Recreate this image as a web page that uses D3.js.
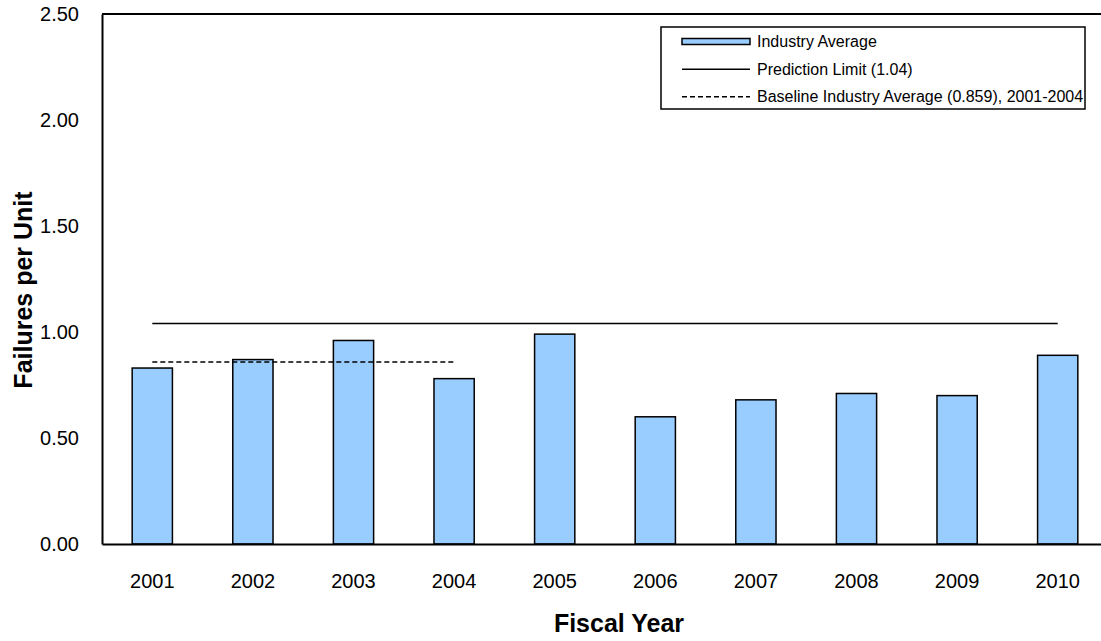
<!DOCTYPE html>
<html>
<head>
<meta charset="utf-8">
<script src="https://cdn.jsdelivr.net/npm/d3@7"></script>
<style>
  html, body { margin: 0; padding: 0; background: #fff; overflow: hidden; }
  svg { display: block; font-family: "Liberation Sans", Arial, sans-serif; }
</style>
</head>
<body>
<svg id="chart" width="1101" height="641"></svg>
<script>
const years = ["2001","2002","2003","2004","2005","2006","2007","2008","2009","2010"];
const industryAverage = [0.83, 0.87, 0.96, 0.78, 0.99, 0.60, 0.68, 0.71, 0.70, 0.89];
const predictionLimit = 1.04;
const baselineAverage = 0.859;
const baselineYears = ["2001", "2004"];
const yTicks = [0, 0.5, 1.0, 1.5, 2.0, 2.5];
const legendLabels = ["Industry Average", "Prediction Limit (1.04)", "Baseline Industry Average (0.859), 2001-2004"];

const svg = d3.select("#chart");
const margin = { left: 102, top: 14, right: 1108, bottom: 544 };

const x = d3.scaleBand().domain(years).range([margin.left, margin.right])
  .paddingInner(0.6).paddingOuter(0.3);
const y = d3.scaleLinear().domain([0, 2.5]).range([margin.bottom, margin.top]);

// Bars
svg.append("g").selectAll("rect").data(years).join("rect")
  .attr("x", d => x(d))
  .attr("y", (d, i) => y(industryAverage[i]))
  .attr("width", x.bandwidth())
  .attr("height", (d, i) => y(0) - y(industryAverage[i]))
  .attr("fill", "#99CCFF")
  .attr("stroke", "#000")
  .attr("stroke-width", 1.5);

const cx = d => x(d) + x.bandwidth() / 2;

// Prediction limit line
svg.append("line")
  .attr("x1", cx(years[0])).attr("x2", cx(years[years.length - 1]))
  .attr("y1", y(predictionLimit)).attr("y2", y(predictionLimit))
  .attr("stroke", "#000").attr("stroke-width", 1.5);

// Baseline dashed line
svg.append("line")
  .attr("x1", cx(baselineYears[0])).attr("x2", cx(baselineYears[1]))
  .attr("y1", y(baselineAverage)).attr("y2", y(baselineAverage))
  .attr("stroke", "#000").attr("stroke-width", 1.5)
  .attr("stroke-dasharray", "5,3");

// Axes
const yAxis = svg.append("g")
  .attr("transform", `translate(${margin.left},0)`)
  .call(d3.axisLeft(y).tickValues(yTicks).tickFormat(d3.format(".2f")).tickSize(0).tickPadding(23));
yAxis.select(".domain").attr("stroke", "#000").attr("stroke-width", 2);
yAxis.selectAll("text").attr("font-size", 20).attr("fill", "#000")
  .attr("font-family", "Liberation Sans, Arial, sans-serif");

const xAxis = svg.append("g")
  .attr("transform", `translate(0,${margin.bottom})`)
  .call(d3.axisBottom(x).tickSize(0).tickPadding(30));
xAxis.select(".domain").attr("stroke", "#000").attr("stroke-width", 2);
xAxis.selectAll("text").attr("font-size", 20).attr("fill", "#000")
  .attr("font-family", "Liberation Sans, Arial, sans-serif");

// Top border
svg.append("line")
  .attr("x1", margin.left).attr("x2", margin.right)
  .attr("y1", margin.top).attr("y2", margin.top)
  .attr("stroke", "#000").attr("stroke-width", 2);

// Axis titles
svg.append("text")
  .attr("x", 619).attr("y", 632)
  .attr("text-anchor", "middle")
  .attr("font-size", 25).attr("font-weight", "bold")
  .text("Fiscal Year");

svg.append("text")
  .attr("transform", "translate(32,290) rotate(-90)")
  .attr("text-anchor", "middle")
  .attr("font-size", 25).attr("font-weight", "bold")
  .text("Failures per Unit");

// Legend
const lg = svg.append("g");
lg.append("rect")
  .attr("x", 661).attr("y", 27).attr("width", 424).attr("height", 82)
  .attr("fill", "#fff").attr("stroke", "#000").attr("stroke-width", 1.5);
const rowY = [41.5, 69.3, 96.7];
lg.append("rect")
  .attr("x", 682).attr("y", rowY[0] - 3).attr("width", 68).attr("height", 6)
  .attr("fill", "#99CCFF").attr("stroke", "#000").attr("stroke-width", 1.5);
lg.append("line")
  .attr("x1", 682).attr("x2", 750).attr("y1", rowY[1]).attr("y2", rowY[1])
  .attr("stroke", "#000").attr("stroke-width", 1.5);
lg.append("line")
  .attr("x1", 682).attr("x2", 750).attr("y1", rowY[2]).attr("y2", rowY[2])
  .attr("stroke", "#000").attr("stroke-width", 1.5).attr("stroke-dasharray", "5,3");
lg.selectAll("text.leg").data(legendLabels).join("text")
  .attr("class", "leg")
  .attr("x", 757).attr("y", (d, i) => rowY[i])
  .attr("dy", "0.35em")
  .attr("font-size", 16)
  .text(d => d);
</script>
</body>
</html>
